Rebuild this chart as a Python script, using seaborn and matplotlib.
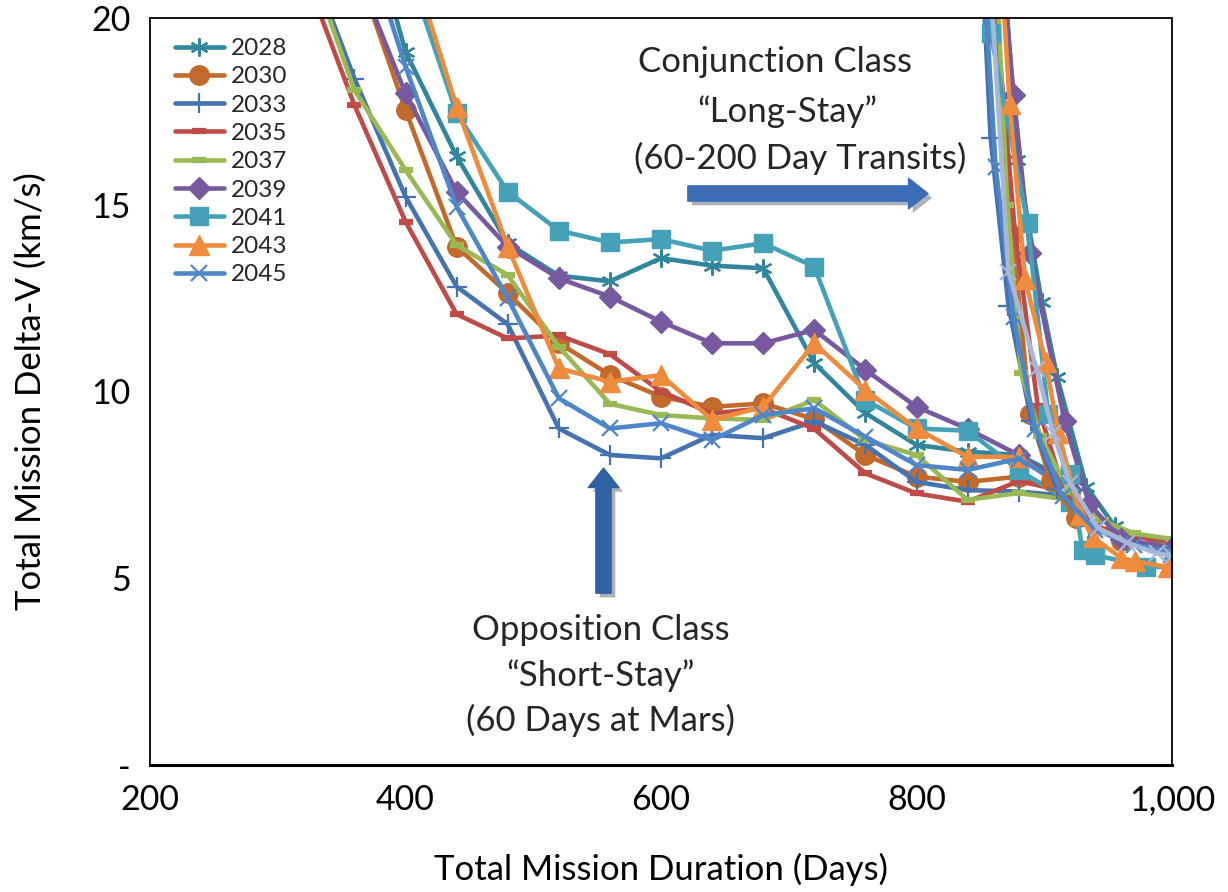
import matplotlib
matplotlib.use("Agg")
import matplotlib.pyplot as plt
import matplotlib.patheffects as pe
import numpy as np
import pandas as pd
import seaborn as sns

sns.set_style("white")
plt.rcParams['font.family'] = ['Lato', 'DejaVu Sans']

# ---------------- data ----------------
years = ["2028", "2030", "2033", "2035", "2037", "2039", "2041", "2043", "2045"]
colors = ["#31859C", "#C26A2C", "#4573B0", "#BE4B48", "#98B954",
          "#76599E", "#45A1B8", "#EF8B3C", "#4E86C8"]
extra_color = "#A7B7D8"

# Opposition class ("short-stay") branch, common duration grid (days)
opp_days = [320, 360, 400, 440, 480, 520, 560, 600, 640, 680, 720, 760, 800, 840, 880, 920]
nan = np.nan
opp_2028 = [nan, 24.0, 19.1, 16.3, 13.97, 13.1, 12.95, 13.57, 13.37, 13.3, 10.76, 9.42, 8.57, 8.39, 8.3, 7.6]
opp_2030 = [nan, 21.5, 17.54, 13.88, 12.63, 11.3, 10.44, 9.86, 9.59, 9.68, 9.26, 8.3, 7.72, 7.58, 7.72, 7.3]
opp_2033 = [22.0, 18.38, 15.22, 12.81, 11.8, 9.01, 8.3, 8.21, 8.84, 8.75, 9.2, 8.57, 7.58, 7.36, 7.32, 7.2]
opp_2035 = [21.3, 17.67, 14.55, 12.07, 11.42, 11.5, 11.0, 10.0, 9.41, 9.55, 9.0, 7.81, 7.27, 7.05, 7.6, 7.3]
opp_2037 = [22.0, 18.07, 15.93, 13.92, 13.12, 11.2, 9.67, 9.37, 9.28, 9.24, 9.77, 8.7, 8.3, 7.1, 7.28, 7.1]
opp_2039 = [nan, 21.4, 17.98, 15.35, 13.88, 13.03, 12.54, 11.87, 11.29, 11.29, 11.65, 10.58, 9.59, 9.0, 8.3, 7.4]
opp_2041 = [nan, nan, 21.5, 17.45, 15.35, 14.31, 13.99, 14.08, 13.77, 13.97, 13.34, 9.77, 9.01, 8.95, 7.9, 7.05]
opp_2043 = [nan, nan, 22.0, 17.63, 13.88, 10.62, 10.26, 10.44, 9.24, 9.59, 11.29, 10.04, 9.01, 8.25, 8.25, 7.3]
opp_2045 = [nan, 23.0, 18.7, 14.95, 12.5, 9.82, 9.01, 9.15, 8.7, 9.37, 9.55, 8.79, 8.03, 7.9, 8.2, 7.4]

# Conjunction class ("long-stay") branch
conj_2028_days = [868, 879, 898, 910, 933, 955, 1000]
conj_2028 = [21.5, 16.2, 12.4, 10.4, 7.45, 6.4, 5.8]
conj_2030_days = [860, 875, 889, 905, 925, 960, 1000]
conj_2030 = [21.0, 14.2, 9.4, 7.6, 6.6, 6.0, 5.85]
conj_2033_days = [852, 858, 872, 890, 910, 935, 965, 1000]
conj_2033 = [21.0, 16.8, 12.3, 9.2, 7.4, 6.4, 5.95, 5.75]
conj_2035_days = [860, 877, 895, 915, 940, 970, 1000]
conj_2035 = [21.0, 14.3, 9.6, 7.4, 6.4, 6.1, 6.0]
conj_2037_days = [863, 871, 882, 897, 920, 945, 970, 1000]
conj_2037 = [21.0, 15.0, 10.5, 8.8, 7.3, 6.55, 6.2, 6.05]
conj_2039_days = [868, 876, 889, 916, 935, 960, 1000]
conj_2039 = [21.0, 17.95, 13.7, 9.2, 7.0, 6.05, 5.8]
conj_2041_days = [855, 858, 887, 903, 920, 930, 940, 980, 1000]
conj_2041 = [22.0, 19.6, 14.5, 9.4, 7.8, 5.76, 5.62, 5.31, 5.3]
conj_2043_days = [866, 873, 885, 901, 911, 928, 938, 960, 971, 997]
conj_2043 = [21.5, 17.7, 13.0, 10.8, 8.9, 6.7, 6.1, 5.55, 5.45, 5.3]
conj_2045_days = [853, 862, 876, 893, 915, 940, 970, 1000]
conj_2045 = [21.0, 16.0, 12.0, 9.0, 7.2, 6.3, 5.9, 5.7]
conj_extra_days = [857, 872, 894, 907, 920, 942, 965, 988, 1000]
conj_extra = [21.5, 13.2, 10.6, 8.9, 7.55, 6.35, 5.95, 5.67, 5.6]

x_ticks = [200, 400, 600, 800, 1000]
x_tick_labels = ["200", "400", "600", "800", "1,000"]
y_ticks = [0, 5, 10, 15, 20]
y_tick_labels = ["-", "5", "10", "15", "20"]

opp_vals = [opp_2028, opp_2030, opp_2033, opp_2035, opp_2037, opp_2039, opp_2041, opp_2043, opp_2045]
conj_sets = [(conj_2028_days, conj_2028), (conj_2030_days, conj_2030), (conj_2033_days, conj_2033),
             (conj_2035_days, conj_2035), (conj_2037_days, conj_2037), (conj_2039_days, conj_2039),
             (conj_2041_days, conj_2041), (conj_2043_days, conj_2043), (conj_2045_days, conj_2045)]

# ---------------- styles ----------------
LW = 3.3
styles = [
    dict(marker=(6, 2, 0), ms=13, mew=1.6),   # 2028 star
    dict(marker="o", ms=14, mew=1.0),         # 2030 circle
    dict(marker="+", ms=15, mew=1.6),         # 2033 plus
    dict(marker="_", ms=10, mew=4.5),         # 2035 dash
    dict(marker="_", ms=10, mew=4.5),         # 2037 dash
    dict(marker="D", ms=11, mew=1.0),         # 2039 diamond
    dict(marker="s", ms=13, mew=1.0),         # 2041 square
    dict(marker="^", ms=15, mew=1.0),         # 2043 triangle
    dict(marker="x", ms=12, mew=1.6),         # 2045 x
]

fig = plt.figure(figsize=(12.28, 8.92), dpi=100)
ax = fig.add_axes([150 / 1228, 1 - 765 / 892, 1022 / 1228, 747 / 892])


def draw(days, vals, color, st, label=None):
    df = pd.DataFrame({"day": days, "dv": vals}).dropna()
    sns.lineplot(data=df, x="day", y="dv", ax=ax, color=color, lw=LW,
                 marker=st["marker"], markersize=st["ms"], markeredgewidth=st["mew"],
                 markeredgecolor=color, markerfacecolor=color,
                 solid_joinstyle="round", solid_capstyle="round",
                 estimator=None, sort=False, label=label)


for yr, c, st, vals in zip(years, colors, styles, opp_vals):
    draw(opp_days, vals, c, st, label=yr)

for c, st, (d, v) in zip(colors, styles, conj_sets):
    draw(d, v, c, st)
draw(conj_extra_days, conj_extra, extra_color, dict(marker="x", ms=12, mew=1.6))

# ---------------- axes ----------------
ax.set_xlim(200, 1000)
ax.set_ylim(0, 20)
ax.set_xticks(x_ticks)
ax.set_xticklabels(x_tick_labels)
ax.set_yticks(y_ticks)
ax.set_yticklabels(y_tick_labels)
ax.tick_params(axis="both", direction="out", length=6, width=1.3, colors="black",
               labelsize=24.5, pad=8)
for name, sp in ax.spines.items():
    sp.set_visible(True)
    sp.set_color("black")
    sp.set_linewidth(1.3)
ax.spines["bottom"].set_linewidth(2.2)

ax.set_xlabel("Total Mission Duration (Days)", fontsize=25, labelpad=26, color="black")
ax.set_ylabel("Total Mission Delta-V (km/s)", fontsize=25, labelpad=32, color="black")

# legend
handles, labels = ax.get_legend_handles_labels()
leg = ax.legend(handles[:9], labels[:9], loc="upper left",
                bbox_to_anchor=(25 / 1022, 1 - 20 / 747), frameon=False,
                fontsize=17.5, handlelength=2.0, handletextpad=0.3,
                labelspacing=0.3, borderpad=0, borderaxespad=0)

# annotations
tsz = 25
ax.text(689, 18.82, "Conjunction Class", ha="center", va="center", fontsize=tsz)
ax.text(699, 17.5, "\u201cLong-Stay\u201d", ha="center", va="center", fontsize=tsz)
ax.text(709, 16.25, "(60-200 Day Transits)", ha="center", va="center", fontsize=tsz)
ax.text(553, 3.61, "Opposition Class", ha="center", va="center", fontsize=tsz)
ax.text(553, 2.38, "\u201cShort-Stay\u201d", ha="center", va="center", fontsize=tsz)
ax.text(553, 1.2, "(60 Days at Mars)", ha="center", va="center", fontsize=tsz)

arrow_color = "#3A6DB3"
shadow = [pe.SimplePatchShadow(offset=(3, -3), alpha=0.35), pe.Normal()]
ann1 = ax.annotate("", xy=(809, 15.3), xytext=(621, 15.3),
                   arrowprops=dict(arrowstyle="simple,head_length=0.7,head_width=1.1,tail_width=0.55",
                                   color=arrow_color, shrinkA=0, shrinkB=0, mutation_scale=20))
ann1.arrow_patch.set_path_effects(shadow)
ann2 = ax.annotate("", xy=(555, 7.95), xytext=(555, 4.6),
                   arrowprops=dict(arrowstyle="simple,head_length=0.7,head_width=1.1,tail_width=0.55",
                                   color="#2F62A3", shrinkA=0, shrinkB=0, mutation_scale=20))
ann2.arrow_patch.set_path_effects(shadow)

fig.savefig("out.png", dpi=100)
